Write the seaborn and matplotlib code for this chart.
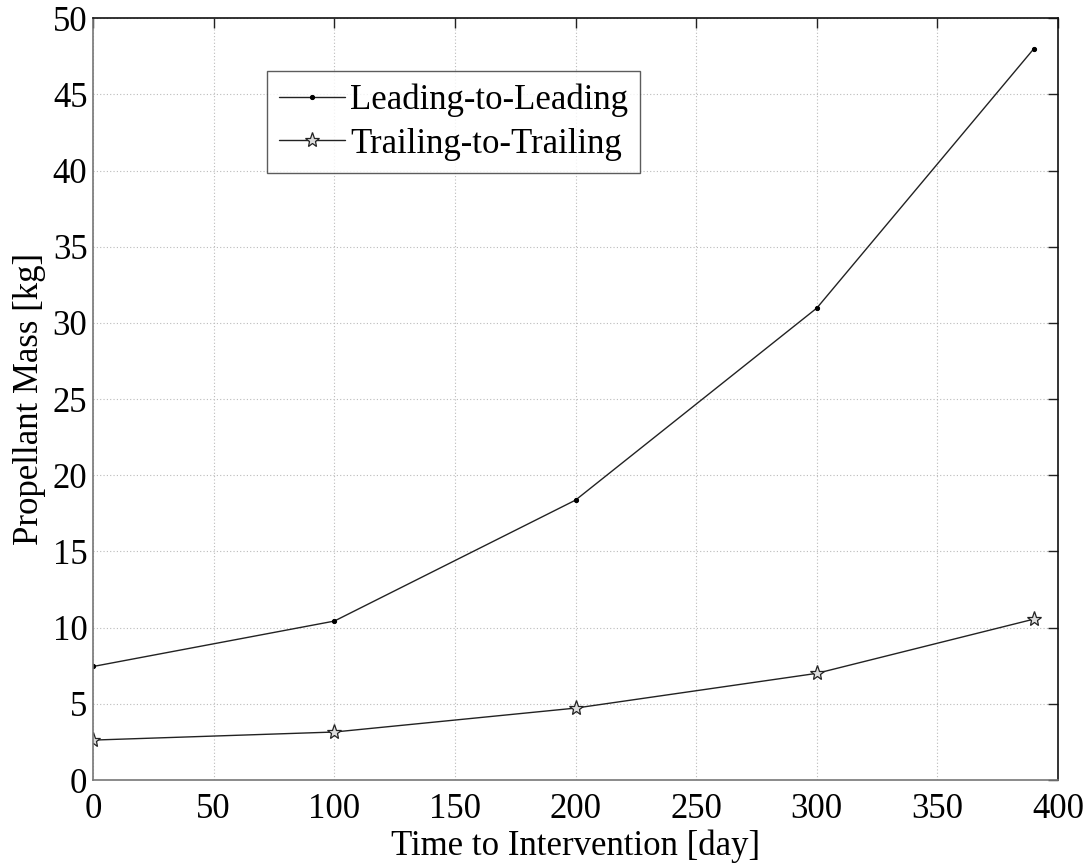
import matplotlib
matplotlib.use("Agg")
import matplotlib.pyplot as plt
import seaborn as sns
import pandas as pd

days = [0, 100, 200, 300, 390]
leading = [7.45, 10.43, 18.37, 30.97, 48.0]
trailing = [2.62, 3.15, 4.72, 7.0, 10.56]

sns.set_style("white")
plt.rcParams["font.family"] = ["Liberation Serif", "DejaVu Serif"]
plt.rcParams["text.color"] = "black"

fig = plt.figure(figsize=(10.92, 8.64), dpi=100)
ax = fig.add_axes([0.0852, 0.0972, 0.8837, 0.8818])

df_lead = pd.DataFrame({"day": days, "mass": leading})
df_trail = pd.DataFrame({"day": days, "mass": trailing})

sns.lineplot(data=df_lead, x="day", y="mass", ax=ax, color="#222222", lw=1.0,
             marker="o", markersize=3, markerfacecolor="black",
             markeredgecolor="black", label="Leading-to-Leading")
sns.lineplot(data=df_trail, x="day", y="mass", ax=ax, color="#222222", lw=1.0,
             marker="*", markersize=11, markerfacecolor="#dddddd",
             markeredgecolor="#222222", markeredgewidth=0.9,
             label="Trailing-to-Trailing")

ax.set_xlim(0, 400)
ax.set_ylim(0, 50)
ax.set_xticks(range(0, 401, 50))
ax.set_yticks(range(0, 51, 5))
ax.grid(True, linestyle=(0, (1, 2)), color="#bbbbbb", linewidth=0.8)
ax.set_axisbelow(True)

ax.tick_params(axis="both", which="both", direction="in", length=7,
               width=1.0, labelsize=25, top=True, right=True,
               colors="#222222", labelcolor="black")
ax.tick_params(axis="x", pad=9)
ax.tick_params(axis="y", pad=4)
for side in ("left", "bottom"):
    ax.spines[side].set_color("#777777")
for side in ("top", "right"):
    ax.spines[side].set_color("#111111")
for sp in ax.spines.values():
    sp.set_linewidth(1.2)

ax.set_xlabel("Time to Intervention [day]", fontsize=25, labelpad=3,
              color="black")
ax.set_ylabel("Propellant Mass [kg]", fontsize=25, labelpad=5, color="black")

leg = ax.legend(loc="upper left", bbox_to_anchor=(0.18, 0.93), fontsize=25,
                frameon=True, fancybox=False, edgecolor="#333333",
                handlelength=1.9, handletextpad=0.15, borderpad=0.35,
                labelspacing=0.3, borderaxespad=0)
leg.get_frame().set_linewidth(1.0)

fig.savefig("out.png", dpi=100, facecolor="white")
